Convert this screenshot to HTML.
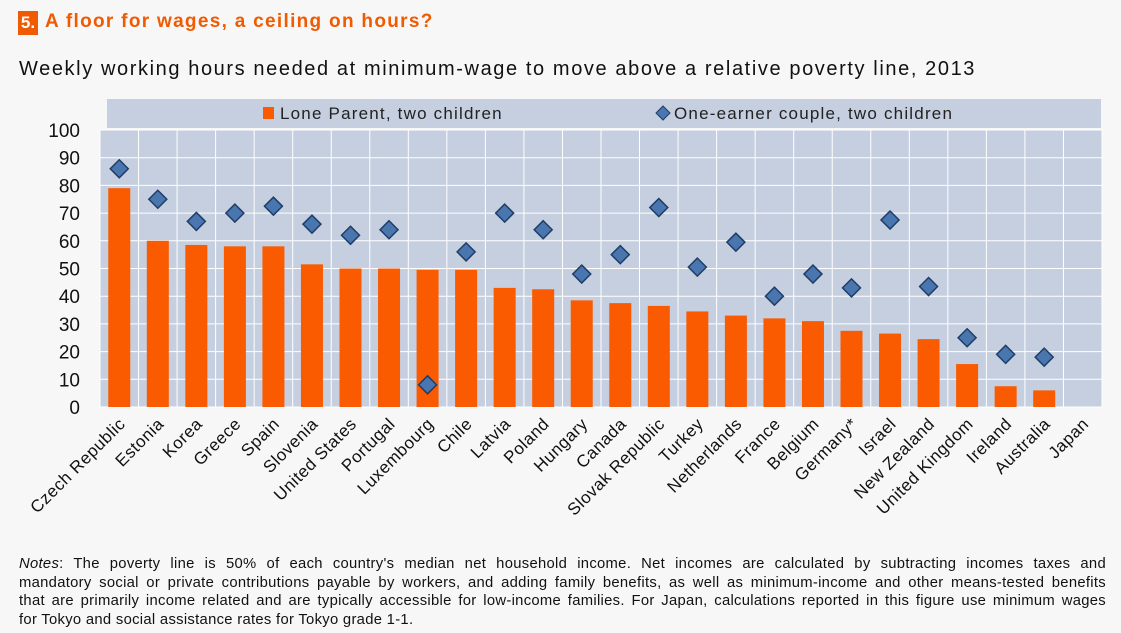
<!DOCTYPE html>
<html><head><meta charset="utf-8"><style>
body{margin:0;width:1121px;height:633px;background:#f7f7f7;font-family:"Liberation Sans",sans-serif;overflow:hidden;position:relative}
.num{position:absolute;left:18px;top:11px;width:20px;height:24px;background:#f05a00;color:#fff;font-weight:bold;font-size:17px;line-height:24px;text-align:center}
.title{position:absolute;left:45px;top:10px;color:#f05a00;font-weight:bold;font-size:19px;line-height:24px;letter-spacing:1.3px}
.sub{position:absolute;left:19px;top:58px;font-size:20px;color:#111;letter-spacing:1.6px}
.notes{position:absolute;left:19px;top:555px;width:1087px;font-size:14.8px;line-height:18.5px;color:#111;letter-spacing:0.3px}
.notes div{text-align:justify;text-align-last:justify;white-space:nowrap}
.notes div.last{text-align-last:left}
</style></head><body>
<div class="sub">Weekly working hours needed at minimum-wage to move above a relative poverty line, 2013</div>
<div class="num">5.</div>
<div class="title">A floor for wages, a ceiling on hours?</div>
<svg id="chart" width="1121" height="633" style="position:absolute;left:0;top:0"></svg>
<div class="notes">
<div><i>Notes</i>: The poverty line is 50% of each country's median net household income. Net incomes are calculated by subtracting incomes taxes and</div>
<div>mandatory social or private contributions payable by workers, and adding family benefits, as well as minimum-income and other means-tested benefits</div>
<div>that are primarily income related and are typically accessible for low-income families. For Japan, calculations reported in this figure use minimum wages</div>
<div class="last">for Tokyo and social assistance rates for Tokyo grade 1-1.</div>
</div>
<script>
const categories=["Czech Republic","Estonia","Korea","Greece","Spain","Slovenia","United States","Portugal","Luxembourg","Chile","Latvia","Poland","Hungary","Canada","Slovak Republic","Turkey","Netherlands","France","Belgium","Germany*","Israel","New Zealand","United Kingdom","Ireland","Australia","Japan"];
const loneParent=[79,60,58.5,58,58,51.5,50,50,49.5,49.5,43,42.5,38.5,37.5,36.5,34.5,33,32,31,27.5,26.5,24.5,15.5,7.5,6,null];
const couple=[86,75,67,70,72.5,66,62,64,8,56,70,64,48,55,72,50.5,59.5,40,48,43,67.5,43.5,25,19,18,null];
const yTicks=[0,10,20,30,40,50,60,70,80,90,100];
const NS="http://www.w3.org/2000/svg",svg=document.getElementById('chart');
const L=100,R=1102,T=130,B=407;
const bw=(R-L)/categories.length;
const y=v=>B-(v/100)*(B-T);
const x=i=>L+bw*(i+0.5);
function mk(t,a,p){const e=document.createElementNS(NS,t);for(const k in a)e.setAttribute(k,a[k]);(p||svg).appendChild(e);return e;}
let e;
e=mk('rect',{x:107,y:99,width:994,height:29,fill:'#c5cfdf'});


e=mk('rect',{x:L,y:T,width:R-L,height:B-T,fill:'#c5cfdf'});


yTicks.forEach(v=>{
 e=mk('line',{x1:L,x2:R,y1:y(v),y2:y(v),stroke:'#fff','stroke-width':1});
 
 
 e=mk('text',{x:80,y:y(v)+7,'text-anchor':'end','font-size':19,fill:'#111'});e.textContent=v;
 
 
});
for(let i=0;i<=categories.length;i++){
 e=mk('line',{x1:L+bw*i,x2:L+bw*i,y1:T,y2:B,stroke:'#fff','stroke-width':1});
 
 
}
categories.forEach((c,i)=>{
 const cx=x(i);
 if(loneParent[i]!=null){
  e=mk('rect',{x:cx-11,y:y(loneParent[i]),width:22,height:B-y(loneParent[i]),fill:'#fa5a00'});
  
  
 }
 if(couple[i]!=null){
  const cy=y(couple[i]);
  e=mk('polygon',{points:`${cx},${cy-9} ${cx+9},${cy} ${cx},${cy+9} ${cx-9},${cy}`,fill:'#4a76b0',stroke:'#1f3d66','stroke-width':1.5});
  
  
 }
 e=mk('text',{x:cx+7,y:425,'text-anchor':'end','font-size':17,'letter-spacing':0.5,fill:'#111',transform:`rotate(-45 ${cx+7} 425)`});e.textContent=c;
 
 
});
e=mk('rect',{x:263,y:107,width:11,height:12,fill:'#fa5a00'});


e=mk('text',{x:280,y:119,'font-size':17,'letter-spacing':1.2,fill:'#222'});e.textContent='Lone Parent, two children';


e=mk('polygon',{points:'663,106 670,113 663,120 656,113',fill:'#4a76b0',stroke:'#1f3d66','stroke-width':1});


e=mk('text',{x:674,y:119,'font-size':17,'letter-spacing':1.2,fill:'#222'});e.textContent='One-earner couple, two children';


</script>
</body></html>
